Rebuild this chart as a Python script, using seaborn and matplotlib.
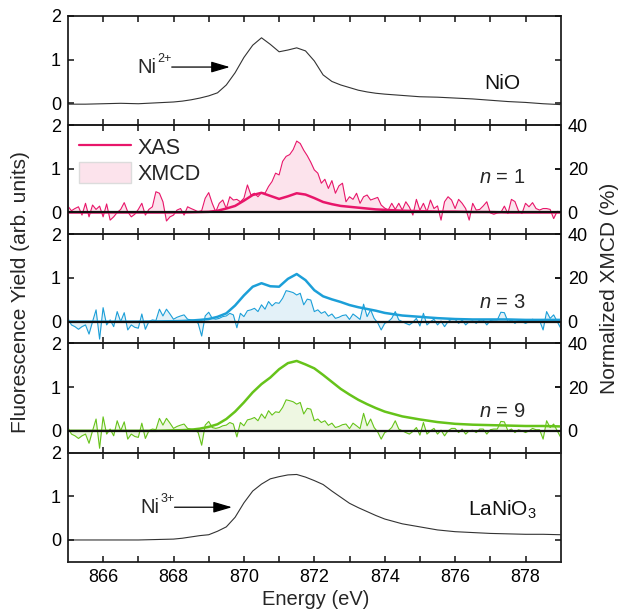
import numpy as np
import pandas as pd
import matplotlib
matplotlib.use("Agg")
import matplotlib.pyplot as plt
import matplotlib.transforms as mtransforms
from matplotlib.lines import Line2D
from matplotlib.patches import Patch
import seaborn as sns

# ---------------- data ----------------
# energy grid of the smooth absorption spectra (eV)
energy_xas = [865.0, 865.5, 866.0, 866.5, 867.0, 867.5, 868.0,
              868.25, 868.5, 868.75, 869.0, 869.25, 869.5, 869.75, 870.0,
              870.25, 870.5, 870.75, 871.0, 871.25, 871.5, 871.75, 872.0,
              872.25, 872.5, 872.75, 873.0, 873.25, 873.5, 873.75, 874.0,
              874.5, 875.0, 875.5, 876.0, 876.5, 877.0, 877.5, 878.0,
              878.5, 879.0]

nio_ref = [-0.02, -0.02, -0.01, 0.0, -0.01, 0.01, 0.03,
           0.05, 0.08, 0.12, 0.17, 0.24, 0.42, 0.70, 1.05,
           1.33, 1.50, 1.35, 1.18, 1.22, 1.27, 1.20, 0.97,
           0.65, 0.50, 0.42, 0.36, 0.30, 0.26, 0.23, 0.21,
           0.18, 0.15, 0.14, 0.12, 0.10, 0.07, 0.04, 0.02,
           -0.01, -0.03]

lanio3_ref = [0.0, 0.0, 0.0, 0.0, 0.0, 0.01, 0.02,
              0.04, 0.07, 0.10, 0.12, 0.20, 0.30, 0.52, 0.85,
              1.12, 1.28, 1.40, 1.45, 1.49, 1.50, 1.44, 1.36,
              1.27, 1.12, 0.98, 0.84, 0.74, 0.65, 0.56, 0.48,
              0.37, 0.30, 0.23, 0.19, 0.17, 0.15, 0.14, 0.13,
              0.13, 0.12]

xas_n1 = [0.0, 0.0, 0.0, 0.0, 0.0, 0.0, 0.0,
          0.0, 0.005, 0.01, 0.015, 0.04, 0.09, 0.15, 0.27,
          0.40, 0.45, 0.38, 0.31, 0.37, 0.44, 0.41, 0.33,
          0.24, 0.19, 0.15, 0.13, 0.11, 0.09, 0.07, 0.06,
          0.04, 0.03, 0.02, 0.02, 0.01, 0.01, 0.0, 0.0,
          0.0, 0.0]

xas_n3 = [0.0, 0.0, 0.0, 0.0, 0.0, 0.005, 0.01,
          0.015, 0.025, 0.04, 0.06, 0.11, 0.19, 0.37, 0.60,
          0.80, 0.88, 0.81, 0.80, 0.98, 1.09, 0.95, 0.72,
          0.58, 0.51, 0.45, 0.38, 0.33, 0.29, 0.25, 0.20,
          0.14, 0.11, 0.08, 0.06, 0.05, 0.05, 0.05, 0.04,
          0.04, 0.04]

xas_n9 = [0.0, 0.0, 0.0, 0.0, 0.0, 0.0, 0.01,
          0.015, 0.025, 0.05, 0.09, 0.15, 0.27, 0.44, 0.65,
          0.88, 1.07, 1.22, 1.41, 1.55, 1.60, 1.52, 1.43,
          1.28, 1.12, 0.96, 0.83, 0.71, 0.61, 0.52, 0.44,
          0.33, 0.26, 0.20, 0.16, 0.14, 0.13, 0.12, 0.11,
          0.11, 0.10]

# XMCD traces, 0.1 eV steps from 865.0 to 879.0 (%)
energy_xmcd = [round(865.0 + 0.1 * i, 1) for i in range(141)]

xmcd_n1 = [2.9, 0.8, 1.8, 2.6, -1.2, 4.2, -2.0, 3.4, 1.4, 2.9,
           -2.0, 3.9, -3.5, -2.0, 0.0, 1.4, 4.5, 0.3, -2.0, -0.8,
           1.4, 4.2, -1.2, 1.4, 2.6, 9.5, 8.8, 4.9, -3.9, -2.0,
           -1.2, 1.1, 1.8, -1.2, 2.6, 1.8, 1.1, 0.3, 0.8, 6.5,
           9.1, 4.2, 0.3, 4.2, 5.7, 1.8, 7.2, 5.7, 6.0, 4.9,
           6.5, 12.6, 8.0, 8.8, 7.2, 9.1, 8.8, 11.9, 14.2, 18.0,
           17.2, 23.4, 25.7, 26.5, 28.8, 32.7, 31.6, 28.5, 26.0, 23.0,
           19.5, 18.0, 13.4, 15.2, 11.0, 14.6, 8.8, 12.2, 13.4, 4.9,
           7.2, 6.0, 8.8, 4.2, 7.2, 8.0, 5.7, 6.3, 6.9, 3.4,
           2.0, 1.1, 4.2, 1.4, 4.2, 1.1, 4.9, 2.5, -1.2, 6.0,
           1.0, 4.2, 0.3, 5.7, 1.8, 3.0, -3.5, 4.9, 7.2, 5.7,
           1.8, 6.0, 4.2, 1.8, -3.5, 4.2, 1.1, 1.4, 3.0, 4.9,
           -0.2, -0.8, -0.2, 0.0, 2.9, -0.5, 6.0, 5.0, 0.8, -0.5,
           4.2, 2.6, 4.5, 1.8, 1.1, 1.8, 1.8, 1.4, -2.8, 0.5,
           0.3]

xmcd_n3 = [1.5, -1.5, -2.3, -3.5, -2.3, -1.5, -5.7, 0.0, 5.4, -8.0,
           6.4, -1.5, 0.8, -2.3, 4.6, 0.0, 4.1, -3.8, -1.5, -2.6,
           -3.0, 3.5, -3.5, 0.0, 0.8, 0.5, 5.7, 2.6, 5.7, 3.5,
           1.1, 2.0, 2.6, 3.1, 1.1, 0.8, 0.5, -0.8, -6.6, 2.6,
           4.3, 1.5, 1.1, 1.5, 2.3, 2.6, 3.8, 3.1, -2.8, 3.8,
           2.3, 5.0, 5.4, 6.1, 4.6, 7.7, 5.7, 9.2, 7.2, 8.7,
           8.4, 10.7, 14.2, 13.8, 13.3, 12.2, 13.0, 7.7, 10.3, 9.9,
           4.6, 5.4, 3.8, 4.6, 2.5, 3.5, 1.5, 2.0, 2.8, 3.1,
           1.0, 3.5, 2.3, 1.0, 8.0, 2.3, 5.4, 1.5, -0.5, -3.8,
           -0.8, 0.0, 1.5, 4.6, 0.8, 0.0, -0.8, -1.5, -0.3, 1.5,
           -2.0, 3.8, -1.5, 0.0, 1.1, -1.5, 0.3, -2.3, 0.0, 1.1,
           1.1, -0.8, 0.8, -1.5, 0.0, 0.3, -0.8, 0.8, 0.8, -1.5,
           0.5, 0.8, 0.8, 4.3, 4.1, 0.0, 0.8, -0.8, 0.5, 0.0,
           -0.8, 0.0, 1.1, 0.5, 0.5, -3.8, 4.6, 1.5, 3.1, 0.0,
           -3.0]

xmcd_n9 = list(xmcd_n3)

sample_n = ["1", "3", "9"]
line_colors = ["#E8166A", "#1C9FD8", "#66C31A"]
fill_colors = ["#FCE3EC", "#E3F1F8", "#EEF7E2"]
energy_ticks = list(range(866, 879))
energy_ticklabels = [str(v) if v % 2 == 0 else "" for v in energy_ticks]

# ---------------- style ----------------
sns.set_theme(style="ticks")
plt.rcParams["font.family"] = ["Liberation Sans", "DejaVu Sans"]
plt.rcParams["mathtext.fontset"] = "custom"
plt.rcParams["mathtext.rm"] = "Liberation Sans"
plt.rcParams["mathtext.it"] = "Liberation Sans:italic"
plt.rcParams["mathtext.default"] = "regular"
plt.rcParams.update({
    "axes.axisbelow": False,
    "xtick.direction": "in", "ytick.direction": "in",
    "xtick.major.size": 4, "ytick.major.size": 4,
    "xtick.major.width": 1.1, "ytick.major.width": 1.1,
    "xtick.color": "black", "ytick.color": "black",
    "xtick.top": True, "xtick.bottom": True,
})

FS = 13          # tick labels
FS_TXT = 15      # panel annotations / legend
FS_LAB = 15      # axis titles
SPINE = "#222222"
TICK = "#111111"

fig, axes = plt.subplots(5, 1, sharex=True, figsize=(6.23, 6.14), dpi=100,
                         gridspec_kw=dict(hspace=0))
fig.subplots_adjust(left=0.109, right=0.900, top=0.974, bottom=0.085)


def style_axis(ax):
    ax.set_xlim(865, 879)
    ax.set_ylim(-0.5, 2)
    ax.set_yticks([0, 1, 2])
    ax.set_xticks(energy_ticks)
    ax.set_xticklabels(energy_ticklabels)
    ax.tick_params(axis="both", which="major", direction="in", length=4,
                   width=1.1, color=TICK, labelsize=FS, pad=5,
                   bottom=True, top=True, left=True)
    for s in ax.spines.values():
        s.set_linewidth(1.3)
        s.set_color(SPINE)
    ax.set_xlabel("")
    ax.set_ylabel("")


def ion_label(ax, x_tail, x_tip, y, charge):
    """Ion name with superscript charge and an arrow pointing at the edge."""
    ax.annotate("", xy=(x_tip, y), xytext=(x_tail, y),
                arrowprops=dict(arrowstyle="-|>,head_length=0.95,head_width=0.28",
                                color="black", lw=0.9, shrinkA=0, shrinkB=0))
    sup = mtransforms.offset_copy(ax.transData, fig=fig, x=0, y=8,
                                  units="dots")
    ax.text(x_tail, y, charge, transform=sup, fontsize=9, ha="right",
            va="center")
    base = mtransforms.offset_copy(ax.transData, fig=fig, x=-15.5, y=0,
                                   units="dots")
    ax.text(x_tail, y, "Ni", transform=base, fontsize=14.5, ha="right",
            va="center")


df_xas = pd.DataFrame(dict(energy=energy_xas, nio=nio_ref, lanio3=lanio3_ref,
                           n1=xas_n1, n3=xas_n3, n9=xas_n9))
df_xmcd = pd.DataFrame(dict(energy=energy_xmcd, n1=xmcd_n1, n3=xmcd_n3,
                            n9=xmcd_n9))

# reference spectra: top (NiO) and bottom (LaNiO3)
for ax, col, label, ly in [(axes[0], "nio", "NiO", 0.45),
                           (axes[4], "lanio3", r"LaNiO$_3$", 0.68)]:
    sns.lineplot(data=df_xas, x="energy", y=col, ax=ax, color="#333333",
                 linewidth=0.8)
    style_axis(ax)
    ax.tick_params(axis="y", right=True, labelright=False)
    ax.text(877.35, ly, label, fontsize=FS_TXT, ha="center", va="center",
            color="#111111")

ion_label(axes[0], 867.95, 869.6, 0.83, "2+")
ion_label(axes[4], 868.03, 869.66, 0.75, "3+")

# thin-film panels: XAS (left axis) and XMCD (right axis, %)
label_y = [0.79, 0.44, 0.44]
for i, (key, lc, fc) in enumerate(zip(["n1", "n3", "n9"], line_colors,
                                      fill_colors)):
    ax = axes[i + 1]
    ax2 = ax.twinx()
    ax2.fill_between(df_xmcd["energy"], df_xmcd[key], 0, color=fc,
                     linewidth=0)
    sns.lineplot(data=df_xmcd, x="energy", y=key, ax=ax2, color=lc,
                 linewidth=0.8)
    ax2.set_ylim(-10, 40)
    ax2.set_yticks([0, 20, 40])
    ax2.set_ylabel("")
    ax2.tick_params(axis="y", which="major", direction="in", length=4,
                    width=1.1, color=TICK, labelsize=FS, pad=5, right=True)
    for s in ax2.spines.values():
        s.set_linewidth(1.3)
        s.set_color(SPINE)

    sns.lineplot(data=df_xas, x="energy", y=key, ax=ax, color=lc,
                 linewidth=1.8)
    ax.axhline(0, color="#111111", linewidth=1.6, zorder=5)
    style_axis(ax)
    ax.tick_params(axis="y", right=True, labelright=False)
    ax.set_zorder(ax2.get_zorder() + 1)
    ax.patch.set_visible(False)
    ax.text(877.35, label_y[i], r"$\it{n}$ = " + sample_n[i],
            fontsize=FS_TXT - 0.5, ha="center", va="center")

handles = [Line2D([], [], color=line_colors[0], linewidth=1.6),
           Patch(facecolor=fill_colors[0], edgecolor="#dcdcdc", linewidth=1.0)]
axes[1].legend(handles, ["XAS", "XMCD"], loc="upper left",
               bbox_to_anchor=(-0.008, 1.035), frameon=False,
               fontsize=FS_TXT + 0.5, handlelength=2.4, handleheight=1.15,
               labelspacing=0.12, handletextpad=0.3, borderaxespad=0.3)

fig.text(0.033, 0.524, "Fluorescence Yield (arb. units)", rotation=90,
         ha="center", va="center", fontsize=FS_LAB)
fig.text(0.978, 0.531, "Normalized XMCD (%)", rotation=90, ha="center",
         va="center", fontsize=FS_LAB)
fig.text(0.506, 0.023, "Energy (eV)", ha="center", va="center",
         fontsize=FS_LAB - 0.5)

fig.savefig("out.png", dpi=100)
